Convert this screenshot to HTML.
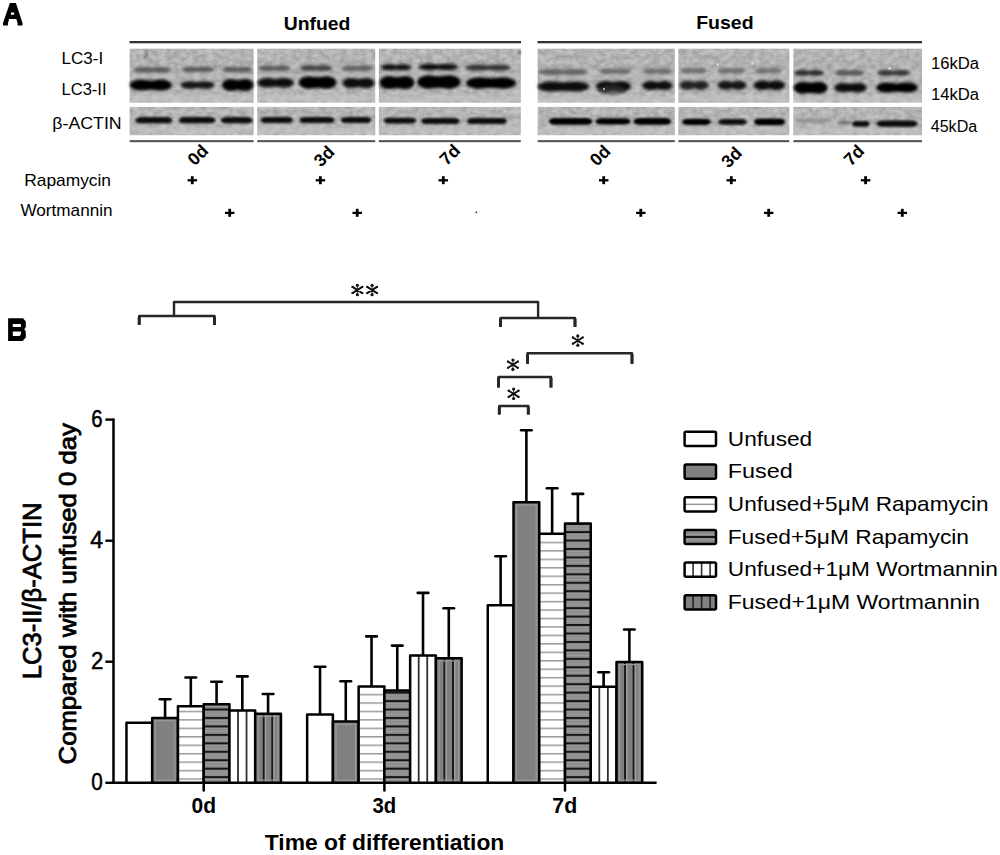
<!DOCTYPE html>
<html><head><meta charset="utf-8"><title>Figure</title>
<style>html,body{margin:0;padding:0;background:#fff;overflow:hidden}svg{display:block}text{font-family:"Liberation Sans",sans-serif}</style>
</head><body>
<svg width="1000" height="855" viewBox="0 0 1000 855">
<defs>
<filter id="bl" filterUnits="userSpaceOnUse" x="100" y="30" width="850" height="120"><feGaussianBlur stdDeviation="1.15"/></filter>
<linearGradient id="gt" gradientUnits="userSpaceOnUse" x1="0" y1="48.7" x2="0" y2="102.7"><stop offset="0" stop-color="#b6b6b6"/><stop offset="0.45" stop-color="#b2b2b2"/><stop offset="0.8" stop-color="#b8b8b8"/><stop offset="1" stop-color="#c2c2c2"/></linearGradient>
<linearGradient id="gb" gradientUnits="userSpaceOnUse" x1="0" y1="106.9" x2="0" y2="135.2"><stop offset="0" stop-color="#b8b8b8"/><stop offset="0.5" stop-color="#b4b4b4"/><stop offset="1" stop-color="#bebebe"/></linearGradient>
<filter id="bl3" filterUnits="userSpaceOnUse" x="100" y="30" width="850" height="120"><feGaussianBlur stdDeviation="1.6"/></filter>
<filter id="bl2b" filterUnits="userSpaceOnUse" x="100" y="30" width="850" height="120"><feGaussianBlur stdDeviation="1.45"/></filter>
<filter id="bl2" filterUnits="userSpaceOnUse" x="100" y="30" width="850" height="120"><feGaussianBlur stdDeviation="1.6"/></filter>
<filter id="nz" filterUnits="userSpaceOnUse" x="100" y="30" width="850" height="120" color-interpolation-filters="sRGB"><feTurbulence type="fractalNoise" baseFrequency="0.15 0.2" numOctaves="3" seed="11"/><feColorMatrix type="matrix" values="1.4 0 0 0 -0.03  1.4 0 0 0 -0.03  1.4 0 0 0 -0.03  0 0 0 0 0.17"/><feGaussianBlur stdDeviation="0.4"/></filter>
<clipPath id="pc"><rect x="129.7" y="48.7" width="123.9" height="54"/><rect x="129.7" y="106.9" width="123.9" height="28.3"/><rect x="257.3" y="48.7" width="117.9" height="54"/><rect x="257.3" y="106.9" width="117.9" height="28.3"/><rect x="378.9" y="48.7" width="141.9" height="54"/><rect x="378.9" y="106.9" width="141.9" height="28.3"/><rect x="537.7" y="48.7" width="137.1" height="54"/><rect x="537.7" y="106.9" width="137.1" height="28.3"/><rect x="678.4" y="48.7" width="110.9" height="54"/><rect x="678.4" y="106.9" width="110.9" height="28.3"/><rect x="793.4" y="48.7" width="128.6" height="54"/><rect x="793.4" y="106.9" width="128.6" height="28.3"/></clipPath>
<pattern id="hw" patternUnits="userSpaceOnUse" width="10" height="8.45" y="0.9"><rect width="10" height="8.45" fill="#fff"/><rect y="0" width="10" height="1.5" fill="#9a9a9a"/></pattern>
<pattern id="hd" patternUnits="userSpaceOnUse" width="10" height="8.45" y="7.2"><rect width="10" height="8.45" fill="#8c8c8c"/><rect y="0" width="10" height="2.1" fill="#151515"/><rect y="2.6" width="10" height="1" fill="#a0a0a0"/><rect y="5.6" width="10" height="1" fill="#9c9c9c"/></pattern>
</defs>
<rect width="1000" height="855" fill="#fff"/>
<path fill="#000" fill-rule="evenodd" d="M9.9,3 H15.9 L22.5,23 V25.5 H17.6 V23.5 L16.4,19 H9.1 L7.9,23.5 V25.5 H3 V23 Z M10.9,12.4 H14.1 V14.8 H10.9 Z"/>
<text x="283.74" y="30.0" font-size="17.8" font-weight="bold" textLength="66.64" lengthAdjust="spacingAndGlyphs" >Unfued</text>
<text x="696.2" y="28.6" font-size="17.8" font-weight="bold" textLength="57.39" lengthAdjust="spacingAndGlyphs" >Fused</text>
<rect x="129.5" y="41" width="391.5" height="2.3" fill="#333"/>
<rect x="537.5" y="41" width="384.5" height="2.3" fill="#333"/>
<rect x="129.7" y="48.7" width="123.9" height="54" fill="url(#gt)"/>
<rect x="129.7" y="106.9" width="123.9" height="28.3" fill="url(#gb)"/>
<rect x="129.7" y="140.1" width="123.9" height="2.1" fill="#555"/>
<rect x="257.3" y="48.7" width="117.9" height="54" fill="url(#gt)"/>
<rect x="257.3" y="106.9" width="117.9" height="28.3" fill="url(#gb)"/>
<rect x="257.3" y="140.1" width="117.9" height="2.1" fill="#555"/>
<rect x="378.9" y="48.7" width="141.9" height="54" fill="url(#gt)"/>
<rect x="378.9" y="106.9" width="141.9" height="28.3" fill="url(#gb)"/>
<rect x="378.9" y="140.1" width="141.9" height="2.1" fill="#555"/>
<rect x="537.7" y="48.7" width="137.1" height="54" fill="url(#gt)"/>
<rect x="537.7" y="106.9" width="137.1" height="28.3" fill="url(#gb)"/>
<rect x="537.7" y="140.1" width="137.1" height="2.1" fill="#555"/>
<rect x="678.4" y="48.7" width="110.9" height="54" fill="url(#gt)"/>
<rect x="678.4" y="106.9" width="110.9" height="28.3" fill="url(#gb)"/>
<rect x="678.4" y="140.1" width="110.9" height="2.1" fill="#555"/>
<rect x="793.4" y="48.7" width="128.6" height="54" fill="url(#gt)"/>
<rect x="793.4" y="106.9" width="128.6" height="28.3" fill="url(#gb)"/>
<rect x="793.4" y="140.1" width="128.6" height="2.1" fill="#555"/>
<g clip-path="url(#pc)">
<rect x="120" y="45" width="810" height="95" filter="url(#nz)"/>
<g filter="url(#bl2)" fill="#c2c2c2" opacity="0.6">
<rect x="129.7" y="95.5" width="123.9" height="6"/>
<rect x="129.7" y="74.5" width="123.9" height="3"/>
<rect x="129.7" y="127" width="123.9" height="6"/>
<rect x="257.3" y="95.5" width="117.9" height="6"/>
<rect x="257.3" y="74.5" width="117.9" height="3"/>
<rect x="257.3" y="127" width="117.9" height="6"/>
<rect x="378.9" y="95.5" width="141.9" height="6"/>
<rect x="378.9" y="74.5" width="141.9" height="3"/>
<rect x="378.9" y="127" width="141.9" height="6"/>
<rect x="537.7" y="95.5" width="137.1" height="6"/>
<rect x="537.7" y="74.5" width="137.1" height="3"/>
<rect x="537.7" y="127" width="137.1" height="6"/>
<rect x="678.4" y="95.5" width="110.9" height="6"/>
<rect x="678.4" y="74.5" width="110.9" height="3"/>
<rect x="678.4" y="127" width="110.9" height="6"/>
<rect x="793.4" y="95.5" width="128.6" height="6"/>
<rect x="793.4" y="74.5" width="128.6" height="3"/>
<rect x="793.4" y="127" width="128.6" height="6"/>
</g>
<g filter="url(#bl3)">
<rect x="141.4" y="67.4" width="22.2" height="4.8" fill="#737373"/>
<ellipse cx="144.0" cy="69.8" rx="10.0" ry="2.8" fill="#585858"/>
<ellipse cx="161.0" cy="69.8" rx="10.0" ry="2.8" fill="#585858"/>
<rect x="188.4" y="67.1" width="19.2" height="4.8" fill="#727272"/>
<ellipse cx="190.6" cy="69.5" rx="8.6" ry="2.8" fill="#565656"/>
<ellipse cx="205.4" cy="69.5" rx="8.6" ry="2.8" fill="#565656"/>
<rect x="228.4" y="67.1" width="17.7" height="4.8" fill="#747474"/>
<ellipse cx="230.5" cy="69.5" rx="8.0" ry="2.8" fill="#5a5a5a"/>
<ellipse cx="244.0" cy="69.5" rx="8.0" ry="2.8" fill="#5a5a5a"/>
<rect x="264.9" y="65.9" width="19.2" height="4.8" fill="#737373"/>
<ellipse cx="267.1" cy="68.3" rx="8.6" ry="2.8" fill="#585858"/>
<ellipse cx="281.9" cy="68.3" rx="8.6" ry="2.8" fill="#585858"/>
<rect x="306.4" y="65.5" width="19.2" height="5.3" fill="#656565"/>
<ellipse cx="308.6" cy="68.1" rx="8.6" ry="3.0" fill="#444444"/>
<ellipse cx="323.4" cy="68.1" rx="8.6" ry="3.0" fill="#444444"/>
<rect x="348.2" y="65.9" width="18.6" height="4.8" fill="#777777"/>
<ellipse cx="350.4" cy="68.3" rx="8.4" ry="2.8" fill="#5e5e5e"/>
<ellipse cx="364.6" cy="68.3" rx="8.4" ry="2.8" fill="#5e5e5e"/>
<rect x="387.0" y="64.7" width="18.0" height="5.3" fill="#3e3e3e"/>
<ellipse cx="389.1" cy="67.3" rx="8.1" ry="3.0" fill="#0c0c0c"/>
<ellipse cx="402.9" cy="67.3" rx="8.1" ry="3.0" fill="#0c0c0c"/>
<rect x="426.4" y="64.1" width="23.7" height="5.7" fill="#3b3b3b"/>
<ellipse cx="429.2" cy="67.0" rx="10.7" ry="3.2" fill="#080808"/>
<ellipse cx="447.3" cy="67.0" rx="10.7" ry="3.2" fill="#080808"/>
<rect x="474.2" y="65.0" width="27.6" height="5.3" fill="#585858"/>
<ellipse cx="477.4" cy="67.6" rx="12.4" ry="3.0" fill="#323232"/>
<ellipse cx="498.6" cy="67.6" rx="12.4" ry="3.0" fill="#323232"/>
<rect x="548.0" y="69.4" width="30.0" height="5.3" fill="#7b7b7b"/>
<ellipse cx="551.5" cy="72.0" rx="13.5" ry="3.0" fill="#646464"/>
<ellipse cx="574.5" cy="72.0" rx="13.5" ry="3.0" fill="#646464"/>
<rect x="605.4" y="68.9" width="19.2" height="4.8" fill="#808080"/>
<ellipse cx="607.6" cy="71.3" rx="8.6" ry="2.8" fill="#6a6a6a"/>
<ellipse cx="622.4" cy="71.3" rx="8.6" ry="2.8" fill="#6a6a6a"/>
<rect x="648.8" y="68.9" width="17.4" height="4.8" fill="#818181"/>
<ellipse cx="650.8" cy="71.3" rx="7.8" ry="2.8" fill="#6c6c6c"/>
<ellipse cx="664.2" cy="71.3" rx="7.8" ry="2.8" fill="#6c6c6c"/>
<rect x="685.7" y="68.2" width="15.6" height="4.8" fill="#828282"/>
<ellipse cx="687.5" cy="70.6" rx="7.0" ry="2.8" fill="#6e6e6e"/>
<ellipse cx="699.5" cy="70.6" rx="7.0" ry="2.8" fill="#6e6e6e"/>
<rect x="723.1" y="68.4" width="16.8" height="4.8" fill="#848484"/>
<ellipse cx="725.1" cy="70.8" rx="7.6" ry="2.8" fill="#707070"/>
<ellipse cx="737.9" cy="70.8" rx="7.6" ry="2.8" fill="#707070"/>
<rect x="760.4" y="68.4" width="16.2" height="4.8" fill="#858585"/>
<ellipse cx="762.3" cy="70.8" rx="7.3" ry="2.8" fill="#727272"/>
<ellipse cx="774.7" cy="70.8" rx="7.3" ry="2.8" fill="#727272"/>
<rect x="800.0" y="70.5" width="18.0" height="4.8" fill="#545454"/>
<ellipse cx="802.1" cy="72.9" rx="8.1" ry="2.8" fill="#2c2c2c"/>
<ellipse cx="815.9" cy="72.9" rx="8.1" ry="2.8" fill="#2c2c2c"/>
<rect x="840.8" y="70.5" width="17.4" height="4.8" fill="#727272"/>
<ellipse cx="842.8" cy="72.9" rx="7.8" ry="2.8" fill="#565656"/>
<ellipse cx="856.2" cy="72.9" rx="7.8" ry="2.8" fill="#565656"/>
<rect x="883.6" y="70.5" width="19.8" height="4.8" fill="#5b5b5b"/>
<ellipse cx="885.9" cy="72.9" rx="8.9" ry="2.8" fill="#363636"/>
<ellipse cx="901.1" cy="72.9" rx="8.9" ry="2.8" fill="#363636"/>
</g>
</g>
<g filter="url(#bl)">
</g><g filter="url(#bl2b)">
<rect x="138.2" y="80.3" width="25.4" height="9.7" fill="#161616"/>
<ellipse cx="141.1" cy="85.1" rx="11.4" ry="5.5" fill="#050505"/>
<ellipse cx="160.6" cy="85.1" rx="11.4" ry="5.5" fill="#050505"/>
<rect x="187.3" y="81.7" width="20.4" height="6.6" fill="#2c2c2c"/>
<ellipse cx="189.7" cy="85.0" rx="9.2" ry="3.8" fill="#141414"/>
<ellipse cx="205.3" cy="85.0" rx="9.2" ry="3.8" fill="#141414"/>
<rect x="228.3" y="79.8" width="19.0" height="10.6" fill="#141414"/>
<ellipse cx="230.5" cy="85.1" rx="8.5" ry="6.0" fill="#030303"/>
<ellipse cx="245.1" cy="85.1" rx="8.5" ry="6.0" fill="#030303"/>
<rect x="264.8" y="78.6" width="21.9" height="8.4" fill="#343434"/>
<ellipse cx="267.4" cy="82.8" rx="9.9" ry="4.8" fill="#0a0a0a"/>
<ellipse cx="284.1" cy="82.8" rx="9.9" ry="4.8" fill="#0a0a0a"/>
<rect x="306.3" y="77.0" width="22.6" height="11.0" fill="#121212"/>
<ellipse cx="309.0" cy="82.5" rx="10.2" ry="6.2" fill="#000"/>
<ellipse cx="326.3" cy="82.5" rx="10.2" ry="6.2" fill="#000"/>
<rect x="348.9" y="78.7" width="19.2" height="8.8" fill="#2a2a2a"/>
<ellipse cx="351.1" cy="83.1" rx="8.6" ry="5.0" fill="#080808"/>
<ellipse cx="365.9" cy="83.1" rx="8.6" ry="5.0" fill="#080808"/>
<rect x="386.6" y="76.9" width="20.9" height="11.4" fill="#090909"/>
<ellipse cx="389.0" cy="82.6" rx="9.4" ry="6.5" fill="#000"/>
<ellipse cx="405.1" cy="82.6" rx="9.4" ry="6.5" fill="#000"/>
<rect x="425.9" y="76.1" width="26.0" height="11.9" fill="#090909"/>
<ellipse cx="428.9" cy="82.0" rx="11.7" ry="6.8" fill="#000"/>
<ellipse cx="448.9" cy="82.0" rx="11.7" ry="6.8" fill="#000"/>
<rect x="476.0" y="77.9" width="30.0" height="10.1" fill="#141414"/>
<ellipse cx="479.5" cy="83.0" rx="13.5" ry="5.8" fill="#020202"/>
<ellipse cx="502.5" cy="83.0" rx="13.5" ry="5.8" fill="#020202"/>
<rect x="548.0" y="82.2" width="30.8" height="8.8" fill="#181818"/>
<ellipse cx="551.6" cy="86.6" rx="13.9" ry="5.0" fill="#070707"/>
<ellipse cx="575.1" cy="86.6" rx="13.9" ry="5.0" fill="#070707"/>
<rect x="603.0" y="81.6" width="21.0" height="9.2" fill="#272727"/>
<ellipse cx="605.5" cy="86.2" rx="9.5" ry="5.2" fill="#0e0e0e"/>
<ellipse cx="621.5" cy="86.2" rx="9.5" ry="5.2" fill="#0e0e0e"/>
<rect x="648.1" y="81.6" width="18.4" height="7.9" fill="#303030"/>
<ellipse cx="650.3" cy="85.6" rx="8.3" ry="4.5" fill="#101010"/>
<ellipse cx="664.3" cy="85.6" rx="8.3" ry="4.5" fill="#101010"/>
<rect x="685.4" y="81.3" width="17.4" height="7.9" fill="#626262"/>
<ellipse cx="687.4" cy="85.3" rx="7.8" ry="4.5" fill="#202020"/>
<ellipse cx="700.8" cy="85.3" rx="7.8" ry="4.5" fill="#202020"/>
<rect x="723.4" y="81.3" width="17.3" height="7.9" fill="#535353"/>
<ellipse cx="725.4" cy="85.3" rx="7.8" ry="4.5" fill="#141414"/>
<ellipse cx="738.6" cy="85.3" rx="7.8" ry="4.5" fill="#141414"/>
<rect x="759.9" y="81.1" width="18.8" height="8.4" fill="#444444"/>
<ellipse cx="762.1" cy="85.3" rx="8.5" ry="4.8" fill="#080808"/>
<ellipse cx="776.5" cy="85.3" rx="8.5" ry="4.8" fill="#080808"/>
<rect x="800.4" y="82.5" width="20.4" height="10.6" fill="#090909"/>
<ellipse cx="802.8" cy="87.8" rx="9.2" ry="6.0" fill="#000"/>
<ellipse cx="818.4" cy="87.8" rx="9.2" ry="6.0" fill="#000"/>
<rect x="840.8" y="83.5" width="19.3" height="8.4" fill="#212121"/>
<ellipse cx="843.1" cy="87.7" rx="8.7" ry="4.8" fill="#070707"/>
<ellipse cx="857.9" cy="87.7" rx="8.7" ry="4.8" fill="#070707"/>
<rect x="884.4" y="83.2" width="25.2" height="8.8" fill="#161616"/>
<ellipse cx="887.3" cy="87.6" rx="11.3" ry="5.0" fill="#050505"/>
<ellipse cx="906.7" cy="87.6" rx="11.3" ry="5.0" fill="#050505"/>
</g><g filter="url(#bl)">
<rect x="135.5" y="117.1" width="36.5" height="6.2" rx="6.0" ry="3.1" fill="#080808"/>
<rect x="179" y="117.1" width="36.3" height="6.2" rx="6.0" ry="3.1" fill="#080808"/>
<rect x="221" y="117.1" width="31.4" height="6.2" rx="6.0" ry="3.1" fill="#080808"/>
<rect x="260.5" y="116.9" width="32.5" height="6.2" rx="6.0" ry="3.1" fill="#0a0a0a"/>
<rect x="299.5" y="116.9" width="35.0" height="6.2" rx="6.0" ry="3.1" fill="#0a0a0a"/>
<rect x="340.8" y="116.9" width="30.4" height="6.2" rx="6.0" ry="3.1" fill="#0a0a0a"/>
<rect x="383.6" y="117.7" width="32.8" height="5.8" rx="6.0" ry="2.9" fill="#0a0a0a"/>
<rect x="421" y="117.9" width="38.6" height="6.2" rx="6.0" ry="3.1" fill="#0a0a0a"/>
<rect x="467" y="117.9" width="40.0" height="6.2" rx="6.0" ry="3.1" fill="#0a0a0a"/>
<rect x="549" y="118.1" width="43.4" height="6.7" rx="6.0" ry="3.4" fill="#050505"/>
<rect x="595.5" y="118.3" width="35.0" height="6.2" rx="6.0" ry="3.1" fill="#050505"/>
<rect x="633.5" y="118.1" width="37.5" height="6.7" rx="6.0" ry="3.4" fill="#050505"/>
<rect x="682" y="118.8" width="28.8" height="6.2" rx="6.0" ry="3.1" fill="#050505"/>
<rect x="718" y="119.1" width="28.8" height="5.7" rx="6.0" ry="2.9" fill="#080808"/>
<rect x="754" y="118.6" width="31.0" height="6.7" rx="6.0" ry="3.4" fill="#050505"/>
<rect x="852" y="121.0" width="17.6" height="5.7" rx="4.4" ry="2.9" fill="#101010"/>
<rect x="876.5" y="120.5" width="41.1" height="6.2" rx="6.0" ry="3.1" fill="#080808"/>
<path d="M145.2,50.5 q2.6,2.5 1.2,5.2 q-0.8,1.6 -2.2,3.2" fill="none" stroke="#555" stroke-width="1.3"/>
<circle cx="519.5" cy="52.5" r="1.3" fill="#333"/>
<ellipse cx="612" cy="90" rx="14" ry="5" fill="#303030" opacity="0.6"/>
<ellipse cx="813" cy="120.5" rx="18" ry="2" fill="#8a8a8a" opacity="0.8"/>
<ellipse cx="845" cy="122.5" rx="8" ry="2" fill="#6a6a6a" opacity="0.8"/>
</g>
<g fill="#e6e6e6"><circle cx="717.6" cy="64.4" r="1.1"/><circle cx="752.6" cy="63.4" r="1.0"/><circle cx="889.6" cy="68.4" r="1.2"/><circle cx="604" cy="89" r="0.9"/></g>
<text x="61.5" y="64.3" font-size="17.4" textLength="41.67" lengthAdjust="spacingAndGlyphs" >LC3-I</text>
<text x="61.55" y="94.8" font-size="17.4" textLength="44.98" lengthAdjust="spacingAndGlyphs" >LC3-II</text>
<text x="52.27" y="129.0" font-size="17.4" textLength="69.38" lengthAdjust="spacingAndGlyphs" >β-ACTIN</text>
<text x="930.93" y="69.1" font-size="15.6" textLength="48.17" lengthAdjust="spacingAndGlyphs" >16kDa</text>
<text x="930.93" y="99.7" font-size="15.6" textLength="48.17" lengthAdjust="spacingAndGlyphs" >14kDa</text>
<text x="930.73" y="132.0" font-size="15.6" textLength="46.47" lengthAdjust="spacingAndGlyphs" >45kDa</text>
<text x="0" y="0" font-size="17.6" font-weight="bold" text-anchor="middle" transform="translate(197.6,154.8) rotate(-45) translate(0,6.3)">0d</text>
<text x="0" y="0" font-size="17.6" font-weight="bold" text-anchor="middle" transform="translate(323.8,156) rotate(-45) translate(0,6.3)">3d</text>
<text x="0" y="0" font-size="17.6" font-weight="bold" text-anchor="middle" transform="translate(449.6,154.5) rotate(-45) translate(0,6.3)">7d</text>
<text x="0" y="0" font-size="17.6" font-weight="bold" text-anchor="middle" transform="translate(599.8,155.2) rotate(-45) translate(0,6.3)">0d</text>
<text x="0" y="0" font-size="17.6" font-weight="bold" text-anchor="middle" transform="translate(731.3,157) rotate(-45) translate(0,6.3)">3d</text>
<text x="0" y="0" font-size="17.6" font-weight="bold" text-anchor="middle" transform="translate(853.7,155) rotate(-45) translate(0,6.3)">7d</text>
<text x="24.28" y="185.7" font-size="16.2" textLength="86.75" lengthAdjust="spacingAndGlyphs" >Rapamycin</text>
<text x="20.42" y="216.3" font-size="16.2" textLength="92.19" lengthAdjust="spacingAndGlyphs" >Wortmannin</text>
<path d="M187.55,180.3 H197.05" stroke="#000" stroke-width="2.3"/><path d="M192.3,176.20000000000002 V184.20000000000002" stroke="#000" stroke-width="2.8"/>
<path d="M315.65,180.3 H325.15" stroke="#000" stroke-width="2.3"/><path d="M320.4,176.20000000000002 V184.20000000000002" stroke="#000" stroke-width="2.8"/>
<path d="M438.55,180.3 H448.05" stroke="#000" stroke-width="2.3"/><path d="M443.3,176.20000000000002 V184.20000000000002" stroke="#000" stroke-width="2.8"/>
<path d="M598.95,180.3 H608.45" stroke="#000" stroke-width="2.3"/><path d="M603.7,176.20000000000002 V184.20000000000002" stroke="#000" stroke-width="2.8"/>
<path d="M726.55,180.3 H736.05" stroke="#000" stroke-width="2.3"/><path d="M731.3,176.20000000000002 V184.20000000000002" stroke="#000" stroke-width="2.8"/>
<path d="M860.85,180.3 H870.35" stroke="#000" stroke-width="2.3"/><path d="M865.6,176.20000000000002 V184.20000000000002" stroke="#000" stroke-width="2.8"/>
<path d="M224.95,212.9 H234.45" stroke="#000" stroke-width="2.3"/><path d="M229.7,208.8 V216.8" stroke="#000" stroke-width="2.8"/>
<path d="M352.45,212.9 H361.95" stroke="#000" stroke-width="2.3"/><path d="M357.2,208.8 V216.8" stroke="#000" stroke-width="2.8"/>
<path d="M636.05,212.9 H645.55" stroke="#000" stroke-width="2.3"/><path d="M640.8,208.8 V216.8" stroke="#000" stroke-width="2.8"/>
<path d="M763.95,212.9 H773.45" stroke="#000" stroke-width="2.3"/><path d="M768.7,208.8 V216.8" stroke="#000" stroke-width="2.8"/>
<path d="M897.55,212.9 H907.05" stroke="#000" stroke-width="2.3"/><path d="M902.3,208.8 V216.8" stroke="#000" stroke-width="2.8"/>
<circle cx="476.3" cy="212.3" r="0.9" fill="#333"/>
<path fill="#000" fill-rule="evenodd" d="M8.1,318.2 H23 L25.8,321.6 V327 L24.3,329.3 L25.8,331.4 V337.6 L22.6,341 H8.1 Z M12.8,324.0 H20.9 V327.0 H12.8 Z M12.8,331.4 H20.9 V334.2 L19.5,336.1 H12.8 Z"/>
<line x1="113.5" y1="418.40000000000003" x2="113.5" y2="784.0" stroke="#000" stroke-width="2.5"/>
<line x1="105.4" y1="782.8" x2="113.5" y2="782.8" stroke="#000" stroke-width="2.4"/>
<text x="91.19" y="789.6999999999999" font-size="23.4" textLength="11.52" lengthAdjust="spacingAndGlyphs" stroke="#000" stroke-width="0.5">0</text>
<line x1="105.4" y1="661.7" x2="113.5" y2="661.7" stroke="#000" stroke-width="2.4"/>
<text x="90.98" y="668.6333333333333" font-size="23.4" textLength="12.33" lengthAdjust="spacingAndGlyphs" stroke="#000" stroke-width="0.5">2</text>
<line x1="105.4" y1="540.7" x2="113.5" y2="540.7" stroke="#000" stroke-width="2.4"/>
<text x="90.37" y="547.5666666666666" font-size="23.4" textLength="12.8" lengthAdjust="spacingAndGlyphs" stroke="#000" stroke-width="0.5">4</text>
<line x1="105.4" y1="419.6" x2="113.5" y2="419.6" stroke="#000" stroke-width="2.4"/>
<text x="91.17" y="426.49999999999994" font-size="23.4" textLength="11.33" lengthAdjust="spacingAndGlyphs" stroke="#000" stroke-width="0.5">6</text>
<line x1="112.3" y1="782.8" x2="655.6" y2="782.8" stroke="#000" stroke-width="2.5" stroke-linecap="round"/>
<line x1="203.7" y1="782.8" x2="203.7" y2="790.4" stroke="#000" stroke-width="2.5" stroke-linecap="round"/>
<text x="191.57" y="812.7" font-size="21.4" font-weight="bold" textLength="24.52" lengthAdjust="spacingAndGlyphs" >0d</text>
<line x1="384.4" y1="782.8" x2="384.4" y2="790.4" stroke="#000" stroke-width="2.5" stroke-linecap="round"/>
<text x="372.53" y="812.7" font-size="21.4" font-weight="bold" textLength="23.71" lengthAdjust="spacingAndGlyphs" >3d</text>
<line x1="565.0" y1="782.8" x2="565.0" y2="790.4" stroke="#000" stroke-width="2.5" stroke-linecap="round"/>
<text x="552.28" y="812.7" font-size="21.4" font-weight="bold" textLength="24.93" lengthAdjust="spacingAndGlyphs" >7d</text>
<text x="264.84" y="850.3" font-size="22.6" font-weight="bold" textLength="239.47" lengthAdjust="spacingAndGlyphs" >Time of differentiation</text>
<text x="-2.1" y="0" font-size="26.0" textLength="176.68" lengthAdjust="spacingAndGlyphs" transform="translate(41.0,677.1) rotate(-90)" stroke="#000" stroke-width="0.8">LC3-II/β-ACTIN</text>
<text x="-1.3" y="0" font-size="24.3" textLength="341.25" lengthAdjust="spacingAndGlyphs" transform="translate(76.0,763.1) rotate(-90)" stroke="#000" stroke-width="0.8">Compared with unfused 0 day</text>
<rect x="126.45" y="722.7" width="25.75" height="60.1" fill="#fff"/>
<rect x="126.45" y="722.7" width="25.75" height="60.1" fill="none" stroke="#000" stroke-width="2.5" stroke-linejoin="round"/>
<line x1="165.07" y1="718.1" x2="165.07" y2="699.2" stroke="#000" stroke-width="2.6"/>
<line x1="159.77" y1="699.2" x2="170.38" y2="699.2" stroke="#000" stroke-width="2.6" stroke-linecap="round"/>
<rect x="152.20" y="718.1" width="25.75" height="64.7" fill="#808080"/>
<rect x="155.30" y="720.7" width="19.55" height="59.5" fill="none" stroke="#9c9c9c" stroke-width="1.1"/>
<rect x="152.20" y="718.1" width="25.75" height="64.7" fill="none" stroke="#000" stroke-width="2.5" stroke-linejoin="round"/>
<line x1="190.82" y1="706.3" x2="190.82" y2="677.5" stroke="#000" stroke-width="2.6"/>
<line x1="185.52" y1="677.5" x2="196.12" y2="677.5" stroke="#000" stroke-width="2.6" stroke-linecap="round"/>
<rect x="177.95" y="706.3" width="25.75" height="76.5" fill="url(#hw)"/>
<rect x="177.95" y="706.3" width="25.75" height="76.5" fill="none" stroke="#000" stroke-width="2.5" stroke-linejoin="round"/>
<line x1="216.57" y1="704.2" x2="216.57" y2="681.7" stroke="#000" stroke-width="2.6"/>
<line x1="211.27" y1="681.7" x2="221.88" y2="681.7" stroke="#000" stroke-width="2.6" stroke-linecap="round"/>
<rect x="203.70" y="704.2" width="25.75" height="78.6" fill="url(#hd)"/>
<rect x="203.70" y="704.2" width="25.75" height="78.6" fill="none" stroke="#000" stroke-width="2.5" stroke-linejoin="round"/>
<line x1="242.32" y1="710.5" x2="242.32" y2="676.4" stroke="#000" stroke-width="2.6"/>
<line x1="237.02" y1="676.4" x2="247.62" y2="676.4" stroke="#000" stroke-width="2.6" stroke-linecap="round"/>
<rect x="229.45" y="710.5" width="25.75" height="72.3" fill="#fff"/>
<line x1="238.00" y1="710.5" x2="238.00" y2="782.8" stroke="#2e2e2e" stroke-width="1.8"/>
<line x1="246.55" y1="710.5" x2="246.55" y2="782.8" stroke="#2e2e2e" stroke-width="1.8"/>
<rect x="229.45" y="710.5" width="25.75" height="72.3" fill="none" stroke="#000" stroke-width="2.5" stroke-linejoin="round"/>
<line x1="268.07" y1="713.7" x2="268.07" y2="694" stroke="#000" stroke-width="2.6"/>
<line x1="262.77" y1="694" x2="273.38" y2="694" stroke="#000" stroke-width="2.6" stroke-linecap="round"/>
<rect x="255.20" y="713.7" width="25.75" height="69.1" fill="#808080"/>
<line x1="263.75" y1="713.7" x2="263.75" y2="782.8" stroke="#1a1a1a" stroke-width="2.0"/>
<rect x="264.85" y="714.7" width="1.2" height="67.1" fill="#a6a6a6"/>
<line x1="272.30" y1="713.7" x2="272.30" y2="782.8" stroke="#1a1a1a" stroke-width="2.0"/>
<rect x="273.40" y="714.7" width="1.2" height="67.1" fill="#a6a6a6"/>
<rect x="258.30" y="716.3000000000001" width="19.55" height="63.9" fill="none" stroke="#9c9c9c" stroke-width="1.1"/>
<rect x="255.20" y="713.7" width="25.75" height="69.1" fill="none" stroke="#000" stroke-width="2.5" stroke-linejoin="round"/>
<line x1="320.02" y1="714.4" x2="320.02" y2="666.7" stroke="#000" stroke-width="2.6"/>
<line x1="314.72" y1="666.7" x2="325.32" y2="666.7" stroke="#000" stroke-width="2.6" stroke-linecap="round"/>
<rect x="307.15" y="714.4" width="25.75" height="68.4" fill="#fff"/>
<rect x="307.15" y="714.4" width="25.75" height="68.4" fill="none" stroke="#000" stroke-width="2.5" stroke-linejoin="round"/>
<line x1="345.77" y1="721.5" x2="345.77" y2="681.3" stroke="#000" stroke-width="2.6"/>
<line x1="340.47" y1="681.3" x2="351.07" y2="681.3" stroke="#000" stroke-width="2.6" stroke-linecap="round"/>
<rect x="332.90" y="721.5" width="25.75" height="61.3" fill="#808080"/>
<rect x="336.00" y="724.1" width="19.55" height="56.1" fill="none" stroke="#9c9c9c" stroke-width="1.1"/>
<rect x="332.90" y="721.5" width="25.75" height="61.3" fill="none" stroke="#000" stroke-width="2.5" stroke-linejoin="round"/>
<line x1="371.52" y1="686.4" x2="371.52" y2="636.4" stroke="#000" stroke-width="2.6"/>
<line x1="366.22" y1="636.4" x2="376.82" y2="636.4" stroke="#000" stroke-width="2.6" stroke-linecap="round"/>
<rect x="358.65" y="686.4" width="25.75" height="96.4" fill="url(#hw)"/>
<rect x="358.65" y="686.4" width="25.75" height="96.4" fill="none" stroke="#000" stroke-width="2.5" stroke-linejoin="round"/>
<line x1="397.27" y1="690.6" x2="397.27" y2="645.6" stroke="#000" stroke-width="2.6"/>
<line x1="391.97" y1="645.6" x2="402.57" y2="645.6" stroke="#000" stroke-width="2.6" stroke-linecap="round"/>
<rect x="384.40" y="690.6" width="25.75" height="92.2" fill="url(#hd)"/>
<rect x="384.40" y="690.6" width="25.75" height="92.2" fill="none" stroke="#000" stroke-width="2.5" stroke-linejoin="round"/>
<line x1="423.02" y1="655.5" x2="423.02" y2="592.9" stroke="#000" stroke-width="2.6"/>
<line x1="417.72" y1="592.9" x2="428.32" y2="592.9" stroke="#000" stroke-width="2.6" stroke-linecap="round"/>
<rect x="410.15" y="655.5" width="25.75" height="127.3" fill="#fff"/>
<line x1="418.70" y1="655.5" x2="418.70" y2="782.8" stroke="#2e2e2e" stroke-width="1.8"/>
<line x1="427.25" y1="655.5" x2="427.25" y2="782.8" stroke="#2e2e2e" stroke-width="1.8"/>
<rect x="410.15" y="655.5" width="25.75" height="127.3" fill="none" stroke="#000" stroke-width="2.5" stroke-linejoin="round"/>
<line x1="448.77" y1="658.3" x2="448.77" y2="608.3" stroke="#000" stroke-width="2.6"/>
<line x1="443.47" y1="608.3" x2="454.07" y2="608.3" stroke="#000" stroke-width="2.6" stroke-linecap="round"/>
<rect x="435.90" y="658.3" width="25.75" height="124.5" fill="#808080"/>
<line x1="444.45" y1="658.3" x2="444.45" y2="782.8" stroke="#1a1a1a" stroke-width="2.0"/>
<rect x="445.55" y="659.3" width="1.2" height="122.5" fill="#a6a6a6"/>
<line x1="453.00" y1="658.3" x2="453.00" y2="782.8" stroke="#1a1a1a" stroke-width="2.0"/>
<rect x="454.10" y="659.3" width="1.2" height="122.5" fill="#a6a6a6"/>
<rect x="439.00" y="660.9" width="19.55" height="119.3" fill="none" stroke="#9c9c9c" stroke-width="1.1"/>
<rect x="435.90" y="658.3" width="25.75" height="124.5" fill="none" stroke="#000" stroke-width="2.5" stroke-linejoin="round"/>
<line x1="500.62" y1="605.3" x2="500.62" y2="556.2" stroke="#000" stroke-width="2.6"/>
<line x1="495.32" y1="556.2" x2="505.93" y2="556.2" stroke="#000" stroke-width="2.6" stroke-linecap="round"/>
<rect x="487.75" y="605.3" width="25.75" height="177.5" fill="#fff"/>
<rect x="487.75" y="605.3" width="25.75" height="177.5" fill="none" stroke="#000" stroke-width="2.5" stroke-linejoin="round"/>
<line x1="526.38" y1="502.3" x2="526.38" y2="430.2" stroke="#000" stroke-width="2.6"/>
<line x1="521.08" y1="430.2" x2="531.67" y2="430.2" stroke="#000" stroke-width="2.6" stroke-linecap="round"/>
<rect x="513.50" y="502.3" width="25.75" height="280.5" fill="#808080"/>
<rect x="516.60" y="504.90000000000003" width="19.55" height="275.3" fill="none" stroke="#9c9c9c" stroke-width="1.1"/>
<rect x="513.50" y="502.3" width="25.75" height="280.5" fill="none" stroke="#000" stroke-width="2.5" stroke-linejoin="round"/>
<line x1="552.12" y1="533.7" x2="552.12" y2="488.3" stroke="#000" stroke-width="2.6"/>
<line x1="546.83" y1="488.3" x2="557.42" y2="488.3" stroke="#000" stroke-width="2.6" stroke-linecap="round"/>
<rect x="539.25" y="533.7" width="25.75" height="249.1" fill="url(#hw)"/>
<rect x="539.25" y="533.7" width="25.75" height="249.1" fill="none" stroke="#000" stroke-width="2.5" stroke-linejoin="round"/>
<line x1="577.88" y1="523.4" x2="577.88" y2="493.9" stroke="#000" stroke-width="2.6"/>
<line x1="572.58" y1="493.9" x2="583.17" y2="493.9" stroke="#000" stroke-width="2.6" stroke-linecap="round"/>
<rect x="565.00" y="523.4" width="25.75" height="259.4" fill="url(#hd)"/>
<rect x="565.00" y="523.4" width="25.75" height="259.4" fill="none" stroke="#000" stroke-width="2.5" stroke-linejoin="round"/>
<line x1="603.62" y1="686.7" x2="603.62" y2="672.3" stroke="#000" stroke-width="2.6"/>
<line x1="598.33" y1="672.3" x2="608.92" y2="672.3" stroke="#000" stroke-width="2.6" stroke-linecap="round"/>
<rect x="590.75" y="686.7" width="25.75" height="96.1" fill="#fff"/>
<line x1="599.30" y1="686.7" x2="599.30" y2="782.8" stroke="#2e2e2e" stroke-width="1.8"/>
<line x1="607.85" y1="686.7" x2="607.85" y2="782.8" stroke="#2e2e2e" stroke-width="1.8"/>
<rect x="590.75" y="686.7" width="25.75" height="96.1" fill="none" stroke="#000" stroke-width="2.5" stroke-linejoin="round"/>
<line x1="629.38" y1="662" x2="629.38" y2="629.5" stroke="#000" stroke-width="2.6"/>
<line x1="624.08" y1="629.5" x2="634.67" y2="629.5" stroke="#000" stroke-width="2.6" stroke-linecap="round"/>
<rect x="616.50" y="662" width="25.75" height="120.8" fill="#808080"/>
<line x1="625.05" y1="662" x2="625.05" y2="782.8" stroke="#1a1a1a" stroke-width="2.0"/>
<rect x="626.15" y="663" width="1.2" height="118.8" fill="#a6a6a6"/>
<line x1="633.60" y1="662" x2="633.60" y2="782.8" stroke="#1a1a1a" stroke-width="2.0"/>
<rect x="634.70" y="663" width="1.2" height="118.8" fill="#a6a6a6"/>
<rect x="619.60" y="664.6" width="19.55" height="115.6" fill="none" stroke="#9c9c9c" stroke-width="1.1"/>
<rect x="616.50" y="662" width="25.75" height="120.8" fill="none" stroke="#000" stroke-width="2.5" stroke-linejoin="round"/>
<path d="M139.2,325.0 V316 H214.5 V325.0" fill="none" stroke="#262626" stroke-width="2.5" stroke-linejoin="round"/>
<path d="M139.2,317 V325.0 M214.5,317 V325.0" fill="none" stroke="#262626" stroke-width="3.0"/>
<path d="M174,316 V302 H538.1 V318" fill="none" stroke="#262626" stroke-width="2.4" stroke-linejoin="round"/>
<path d="M500.5,327.0 V318 H575 V327.0" fill="none" stroke="#262626" stroke-width="2.5" stroke-linejoin="round"/>
<path d="M500.5,319 V327.0 M575,319 V327.0" fill="none" stroke="#262626" stroke-width="3.0"/>
<path d="M527.5,363.8 V353.2 H632 V363.8" fill="none" stroke="#262626" stroke-width="2.5" stroke-linejoin="round"/>
<path d="M527.5,354.2 V363.8 M632,354.2 V363.8" fill="none" stroke="#262626" stroke-width="3.0"/>
<path d="M498.5,387.5 V377 H551 V387.5" fill="none" stroke="#262626" stroke-width="2.5" stroke-linejoin="round"/>
<path d="M498.5,378 V387.5 M551,378 V387.5" fill="none" stroke="#262626" stroke-width="3.0"/>
<path d="M499.3,414.6 V406 H528.3 V414.6" fill="none" stroke="#262626" stroke-width="2.5" stroke-linejoin="round"/>
<path d="M499.3,407 V414.6 M528.3,407 V414.6" fill="none" stroke="#262626" stroke-width="3.0"/>
<g fill="#111" stroke="#111" stroke-linecap="round"><line x1="357.4" y1="285.4" x2="357.4" y2="294.6" stroke-width="1.1" stroke="#555"/><circle cx="357.4" cy="285.3" r="1.6" stroke="none"/><circle cx="357.4" cy="294.7" r="1.6" stroke="none"/><path d="M352.5,286.9 L362.29999999999995,293.1 M362.29999999999995,286.9 L352.5,293.1" fill="none" stroke-width="1.9"/><circle cx="352.5" cy="286.9" r="1.15" stroke="none"/><circle cx="362.29999999999995" cy="286.9" r="1.15" stroke="none"/><circle cx="352.5" cy="293.1" r="1.15" stroke="none"/><circle cx="362.29999999999995" cy="293.1" r="1.15" stroke="none"/></g>
<g fill="#111" stroke="#111" stroke-linecap="round"><line x1="372.1" y1="285.4" x2="372.1" y2="294.6" stroke-width="1.1" stroke="#555"/><circle cx="372.1" cy="285.3" r="1.6" stroke="none"/><circle cx="372.1" cy="294.7" r="1.6" stroke="none"/><path d="M367.20000000000005,286.9 L377.0,293.1 M377.0,286.9 L367.20000000000005,293.1" fill="none" stroke-width="1.9"/><circle cx="367.20000000000005" cy="286.9" r="1.15" stroke="none"/><circle cx="377.0" cy="286.9" r="1.15" stroke="none"/><circle cx="367.20000000000005" cy="293.1" r="1.15" stroke="none"/><circle cx="377.0" cy="293.1" r="1.15" stroke="none"/></g>
<g fill="#111" stroke="#111" stroke-linecap="round"><line x1="577.8" y1="336.0" x2="577.8" y2="345.20000000000005" stroke-width="1.1" stroke="#555"/><circle cx="577.8" cy="335.90000000000003" r="1.6" stroke="none"/><circle cx="577.8" cy="345.3" r="1.6" stroke="none"/><path d="M572.9,337.5 L582.6999999999999,343.70000000000005 M582.6999999999999,337.5 L572.9,343.70000000000005" fill="none" stroke-width="1.9"/><circle cx="572.9" cy="337.5" r="1.15" stroke="none"/><circle cx="582.6999999999999" cy="337.5" r="1.15" stroke="none"/><circle cx="572.9" cy="343.70000000000005" r="1.15" stroke="none"/><circle cx="582.6999999999999" cy="343.70000000000005" r="1.15" stroke="none"/></g>
<g fill="#111" stroke="#111" stroke-linecap="round"><line x1="512.9" y1="360.09999999999997" x2="512.9" y2="369.3" stroke-width="1.1" stroke="#555"/><circle cx="512.9" cy="360.0" r="1.6" stroke="none"/><circle cx="512.9" cy="369.4" r="1.6" stroke="none"/><path d="M508.0,361.59999999999997 L517.8,367.8 M517.8,361.59999999999997 L508.0,367.8" fill="none" stroke-width="1.9"/><circle cx="508.0" cy="361.59999999999997" r="1.15" stroke="none"/><circle cx="517.8" cy="361.59999999999997" r="1.15" stroke="none"/><circle cx="508.0" cy="367.8" r="1.15" stroke="none"/><circle cx="517.8" cy="367.8" r="1.15" stroke="none"/></g>
<g fill="#111" stroke="#111" stroke-linecap="round"><line x1="513.6" y1="389.2" x2="513.6" y2="398.40000000000003" stroke-width="1.1" stroke="#555"/><circle cx="513.6" cy="389.1" r="1.6" stroke="none"/><circle cx="513.6" cy="398.5" r="1.6" stroke="none"/><path d="M508.70000000000005,390.7 L518.5,396.90000000000003 M518.5,390.7 L508.70000000000005,396.90000000000003" fill="none" stroke-width="1.9"/><circle cx="508.70000000000005" cy="390.7" r="1.15" stroke="none"/><circle cx="518.5" cy="390.7" r="1.15" stroke="none"/><circle cx="508.70000000000005" cy="396.90000000000003" r="1.15" stroke="none"/><circle cx="518.5" cy="396.90000000000003" r="1.15" stroke="none"/></g>
<rect x="684.6" y="431.8" width="31.4" height="14.2" rx="1.5" fill="#fff"/>
<rect x="684.6" y="431.8" width="31.4" height="14.2" rx="1.5" fill="none" stroke="#000" stroke-width="2.5"/>
<text x="727.85" y="445.6" font-size="21.0" textLength="84.31" lengthAdjust="spacingAndGlyphs" >Unfused</text>
<rect x="684.6" y="464.5" width="31.4" height="14.2" rx="1.5" fill="#808080"/>
<rect x="684.6" y="464.5" width="31.4" height="14.2" rx="1.5" fill="none" stroke="#000" stroke-width="2.5"/>
<text x="727.68" y="478.3" font-size="21.0" textLength="65.03" lengthAdjust="spacingAndGlyphs" >Fused</text>
<rect x="684.6" y="497.2" width="31.4" height="14.2" rx="1.5" fill="#fff"/>
<rect x="684.6" y="503.6" width="31.4" height="1.5" fill="#9a9a9a"/>
<rect x="684.6" y="497.2" width="31.4" height="14.2" rx="1.5" fill="none" stroke="#000" stroke-width="2.5"/>
<text x="727.86" y="511.0" font-size="21.0" textLength="260.71" lengthAdjust="spacingAndGlyphs" >Unfused+5μM Rapamycin</text>
<rect x="684.6" y="529.9" width="31.4" height="14.2" rx="1.5" fill="#8c8c8c"/>
<rect x="684.6" y="535.9" width="31.4" height="2.2" fill="#151515"/>
<rect x="684.6" y="538.6" width="31.4" height="1" fill="#a0a0a0"/>
<rect x="684.6" y="534.2" width="31.4" height="1" fill="#a0a0a0"/>
<rect x="684.6" y="529.9" width="31.4" height="14.2" rx="1.5" fill="none" stroke="#000" stroke-width="2.5"/>
<text x="727.73" y="543.7" font-size="21.0" textLength="241.24" lengthAdjust="spacingAndGlyphs" >Fused+5μM Rapamycin</text>
<rect x="684.6" y="562.6" width="31.4" height="14.2" rx="1.5" fill="#fff"/>
<line x1="693.1" y1="562.6" x2="693.1" y2="576.8" stroke="#333" stroke-width="1.6"/>
<line x1="701.6" y1="562.6" x2="701.6" y2="576.8" stroke="#333" stroke-width="1.6"/>
<line x1="710.1" y1="562.6" x2="710.1" y2="576.8" stroke="#333" stroke-width="1.6"/>
<rect x="684.6" y="562.6" width="31.4" height="14.2" rx="1.5" fill="none" stroke="#000" stroke-width="2.5"/>
<text x="727.86" y="576.4000000000001" font-size="21.0" textLength="270.01" lengthAdjust="spacingAndGlyphs" >Unfused+1μM Wortmannin</text>
<rect x="684.6" y="595.3" width="31.4" height="14.2" rx="1.5" fill="#808080"/>
<line x1="693.1" y1="595.3" x2="693.1" y2="609.5" stroke="#222" stroke-width="1.6"/>
<line x1="701.6" y1="595.3" x2="701.6" y2="609.5" stroke="#222" stroke-width="1.6"/>
<line x1="710.1" y1="595.3" x2="710.1" y2="609.5" stroke="#222" stroke-width="1.6"/>
<rect x="684.6" y="595.3" width="31.4" height="14.2" rx="1.5" fill="none" stroke="#000" stroke-width="2.5"/>
<text x="727.72" y="609.1" font-size="21.0" textLength="252.37" lengthAdjust="spacingAndGlyphs" >Fused+1μM Wortmannin</text>
</svg>
</body></html>
